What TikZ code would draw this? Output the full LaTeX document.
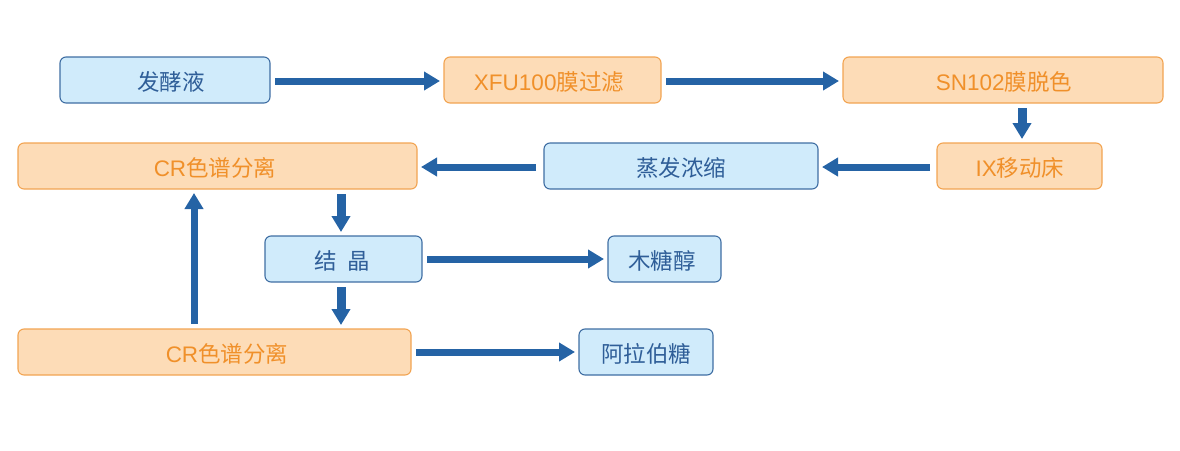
\documentclass[tikz,border=0pt]{standalone}
\usepackage{fontspec}
\setmainfont{Liberation Sans}
\newfontfamily\cjk{Noto Sans CJK SC}
\usetikzlibrary{arrows.meta,positioning}
\definecolor{bfill}{HTML}{D0EBFB}
\definecolor{bdraw}{HTML}{3F6EA3}
\definecolor{btext}{HTML}{2F5E98}
\definecolor{ofill}{HTML}{FDDCB7}
\definecolor{odraw}{HTML}{F2A452}
\definecolor{otext}{HTML}{F0902A}
\definecolor{arr}{HTML}{2563A5}
\tikzset{
  bluebox/.style={draw=bdraw,fill=bfill,line width=1.1pt,rounded corners=6pt},
  orangebox/.style={draw=odraw,fill=ofill,line width=1.1pt,rounded corners=6pt},
  flow/.style={draw=arr,line width=7pt,-{Triangle[length=16pt,width=18pt]},shorten <=5pt,shorten >=4pt},
  downflow/.style={flow,line width=9pt,-{Triangle[length=16pt,width=18pt]}},
  lbl/.style={font=\fontsize{22.5}{26}\selectfont,text=#1,inner sep=0pt,yshift=-2pt},
}
\begin{document}
\begin{tikzpicture}[x=1pt,y=-1pt]
\useasboundingbox (0,0) rectangle (1180,450);
% boxes
\path[bluebox] (60,57) rectangle (270,103);
\node[lbl=btext] (fj) at (171,80) {\cjk 发酵液};
\path[orangebox] (444,57) rectangle (661,103);
\node[lbl=otext] (xfu) at (549,80) {XFU100{\cjk 膜过滤}};
\path[orangebox] (843,57) rectangle (1163,103);
\node[lbl=otext] (sn) at (1004,80) {SN102{\cjk 膜脱色}};
\path[orangebox] (937,143) rectangle (1102,189);
\node[lbl=otext] (ix) at (1020,166) {IX{\cjk 移动床}};
\path[bluebox] (544,143) rectangle (818,189);
\node[lbl=btext] (zf) at (681,166) {\cjk 蒸发浓缩};
\path[orangebox] (18,143) rectangle (417,189);
\node[lbl=otext] (cr1) at (215,166) {CR{\cjk 色谱分离}};
\path[bluebox] (265,236) rectangle (422,282);
\node[lbl=btext] (jj) at (342,259) {\cjk 结\ \ 晶};
\path[bluebox] (608,236) rectangle (721,282);
\node[lbl=btext] (mt) at (662,259) {\cjk 木糖醇};
\path[orangebox] (18,329) rectangle (411,375);
\node[lbl=otext] (cr2) at (227,352) {CR{\cjk 色谱分离}};
\path[bluebox] (579,329) rectangle (713,375);
\node[lbl=btext] (alb) at (646,352) {\cjk 阿拉伯糖};
% anchor coordinates on box edges
\coordinate (fjE) at (270,81); \coordinate (xfuW) at (444,81);
\coordinate (xfuE) at (661,81); \coordinate (snW) at (843,81);
\coordinate (snS) at (1022,103); \coordinate (ixN) at (1022,143);
\coordinate (ixW) at (937,167); \coordinate (zfE) at (818,167);
\coordinate (zfW) at (544,167); \coordinate (cr1E) at (417,167);
\coordinate (cr1S) at (341,189); \coordinate (jjN) at (341,236);
\coordinate (jjE) at (422,259); \coordinate (mtW) at (608,259);
\coordinate (jjS) at (341,282); \coordinate (cr2N) at (341,329);
\coordinate (cr2Nb) at (194,329); \coordinate (cr1Sb) at (194,189);
\coordinate (cr2E) at (411,352); \coordinate (albW) at (579,352);
% connectors
\draw[flow] (fjE) -- (xfuW);
\draw[flow] (xfuE) -- (snW);
\draw[downflow] (snS) -- (ixN);
\draw[flow,shorten <=7pt] (ixW) -- (zfE);
\draw[flow,shorten <=8pt] (zfW) -- (cr1E);
\draw[downflow] (cr1S) -- (jjN);
\draw[flow] (jjE) -- (mtW);
\draw[downflow] (jjS) -- (cr2N);
\draw[flow] (cr2Nb) -- (cr1Sb);
\draw[flow] (cr2E) -- (albW);
\end{tikzpicture}
\end{document}
